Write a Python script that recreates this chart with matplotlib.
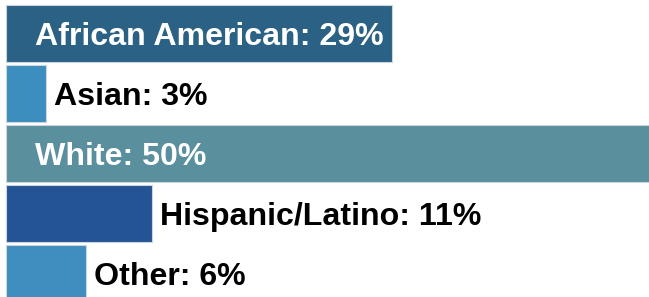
import matplotlib
matplotlib.use("Agg")
import matplotlib.pyplot as plt

# data
groups = ["African American", "Asian", "White", "Hispanic/Latino", "Other"]
shares = [29, 3, 50, 11, 6]
colors = ["#2b6185", "#3b8ebd", "#5a8f9e", "#245396", "#408dbf"]
inside = [True, False, True, False, False]

fig = plt.figure(figsize=(6.49, 2.97), dpi=100)
ax = fig.add_axes([0, 0, 1, 1])

ypos = list(range(len(groups)))
ax.barh(ypos, shares, height=0.95, color=colors,
        edgecolor="#c9d6de", linewidth=0.8)

for y, name, val, ins in zip(ypos, groups, shares, inside):
    label = f"{name}: {val}%"
    if ins:
        ax.text(2.2, y + 0.05, label, color="white", fontsize=23.1,
                fontweight="bold", va="center", ha="left",
                family="Liberation Sans")
    else:
        ax.text(val + 0.6, y + 0.05, label, color="black", fontsize=23.1,
                fontweight="bold", va="center", ha="left",
                family="Liberation Sans")

ax.set_xlim(-0.45, 48.3)
ax.set_ylim(4.39, -0.56)
ax.axis("off")

plt.savefig("out.png", dpi=100)
